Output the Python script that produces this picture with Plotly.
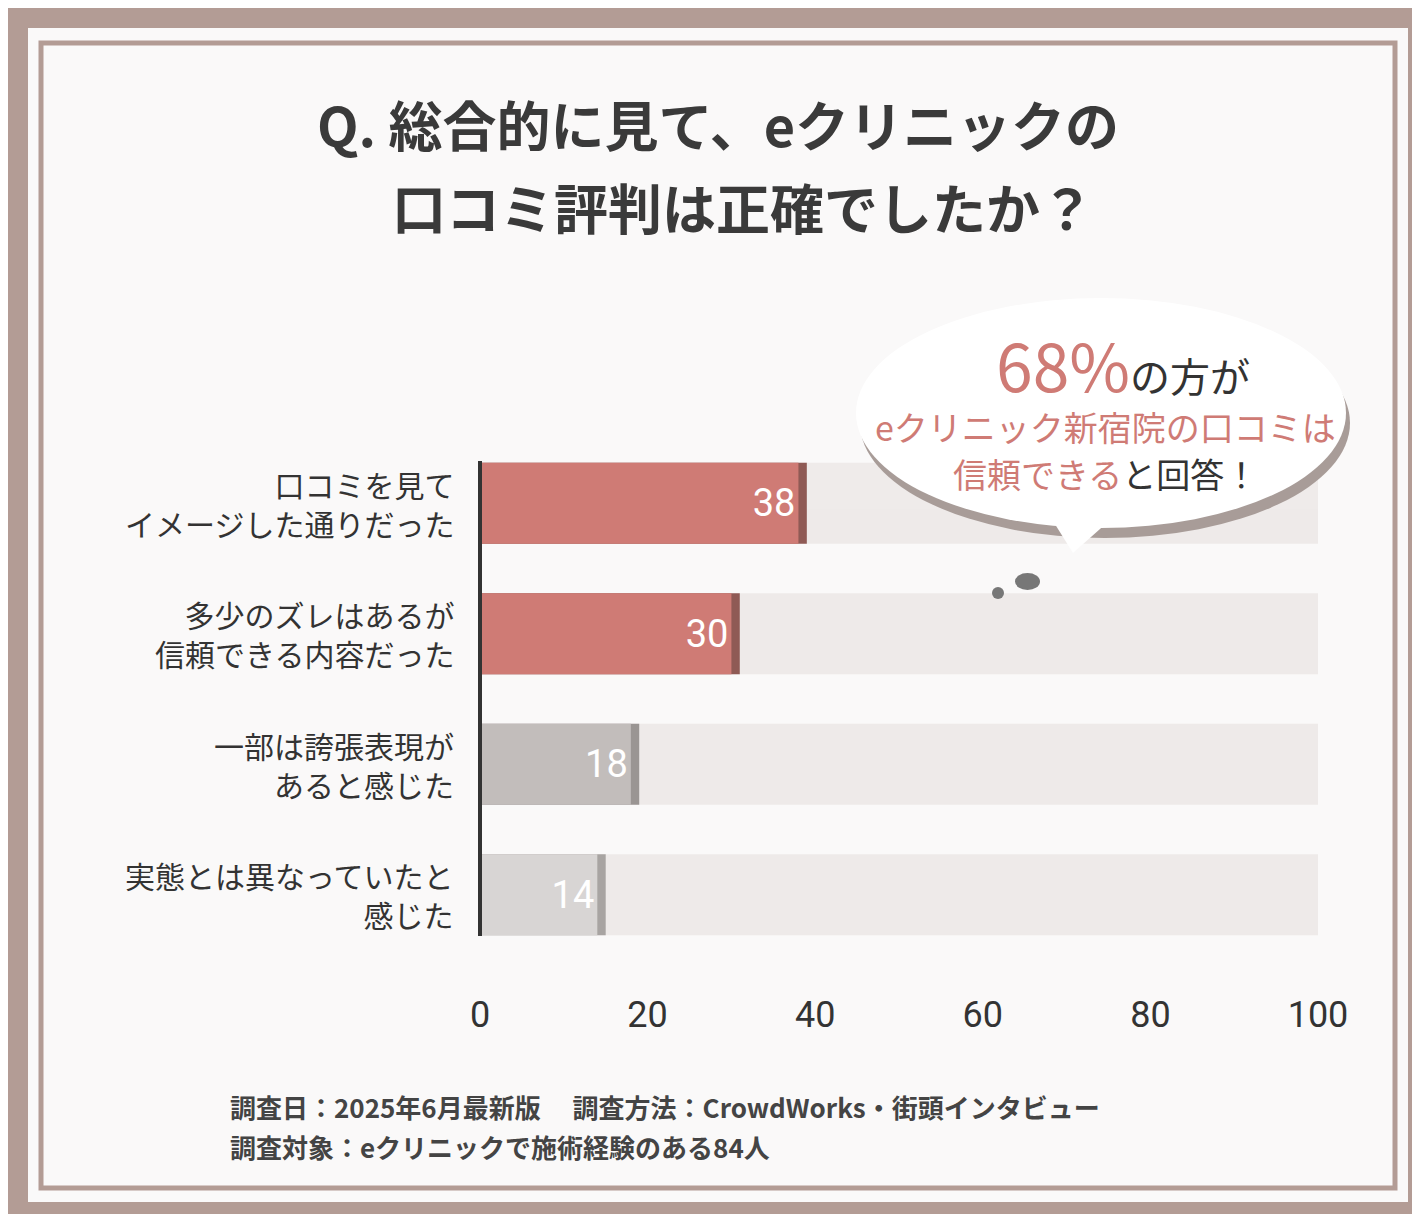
import plotly.graph_objects as go

categories = ["口コミを見て<br>イメージした通りだった", "多少のズレはあるが<br>信頼できる内容だった",
              "一部は誇張表現が<br>あると感じた", "実態とは異なっていたと<br>感じた"]
values = [38, 30, 18, 14]
colors = ["#cf7b75", "#cf7b75", "#c2bdbb", "#d8d5d4"]
shadow = ["#8f5a55", "#8f5a55", "#9a9593", "#a8a4a2"]
xticks = [0, 20, 40, 60, 80, 100]

L, R, T, B = 472, 1310, 430, 952
def px(x): return (x - L) / (R - L)
def py(y): return (B - y) / (B - T)

FONT = "Noto Sans CJK JP"
fig = go.Figure()
yy = list(range(len(categories)))
fig.add_bar(x=[100.8]*4, y=yy, orientation="h", marker=dict(color="#ebe6e4", line_width=0), width=0.62, opacity=0.75, hoverinfo="skip")
fig.add_bar(x=[v + 1.0 for v in values], y=yy, orientation="h", marker=dict(color=shadow, line_width=0), width=0.62, hoverinfo="skip")
fig.add_bar(x=values, y=yy, orientation="h", marker=dict(color=colors, line_width=0), width=0.62,
            text=[str(v) for v in values], textposition="inside", insidetextanchor="end",
            textfont=dict(color="white", size=38, family="Roboto"))

fig.update_layout(barmode="overlay", width=1420, height=1214, showlegend=False,
                  margin=dict(l=L, r=1420 - R, t=T, b=1214 - B),
                  paper_bgcolor="#faf9f9", plot_bgcolor="rgba(0,0,0,0)",
                  xaxis=dict(range=[0, 100], tickvals=xticks, showgrid=False, zeroline=False,
                             tickfont=dict(size=36, family="Roboto", color="#333"), ticklen=0,
                             ticklabelstandoff=30, fixedrange=True),
                  yaxis=dict(range=[3.5, -0.5], showticklabels=False, showgrid=False, zeroline=False))

shapes = [
    dict(type="rect", xref="paper", yref="paper", x0=px(0), x1=px(1420), y0=py(1214), y1=py(0),
         line=dict(color="#b39c95", width=40), fillcolor="rgba(0,0,0,0)", layer="below"),
    dict(type="rect", xref="paper", yref="paper", x0=px(33), x1=px(1387), y0=py(1180), y1=py(35),
         line=dict(color="#b39c95", width=5), fillcolor="rgba(0,0,0,0)", layer="below"),
    dict(type="line", xref="paper", yref="paper", x0=px(472), x1=px(472), y0=py(453), y1=py(928),
         line=dict(color="#333", width=4)),
    dict(type="circle", xref="paper", yref="paper", x0=px(852), x1=px(1342), y0=py(530), y1=py(300),
         fillcolor="#a89c98", line_width=0),
    dict(type="circle", xref="paper", yref="paper", x0=px(848), x1=px(1338), y0=py(520), y1=py(290),
         fillcolor="white", line_width=0),
    dict(type="path", xref="paper", yref="paper",
         path=f"M {px(1040)},{py(505)} L {px(1065)},{py(545)} L {px(1110)},{py(505)} Z",
         fillcolor="white", line_width=0),
    dict(type="circle", xref="paper", yref="paper", x0=px(984), x1=px(996), y0=py(591), y1=py(579),
         fillcolor="#777", line_width=0),
    dict(type="circle", xref="paper", yref="paper", x0=px(1007), x1=px(1032), y0=py(582), y1=py(565),
         fillcolor="#777", line_width=0),
]
fig.update_layout(shapes=shapes)

ann = [
    dict(x=px(710), y=py(115), text="<b>Q. 総合的に見て、eクリニックの</b>", font=dict(size=54, color="#3a3a3a")),
    dict(x=px(735), y=py(198), text="<b>口コミ評判は正確でしたか？</b>", font=dict(size=54, color="#3a3a3a")),
    dict(x=px(1115), y=py(355), text="<span style='font-size:66px;color:#cf7b75'>68%</span><span style='font-size:40px;color:#333'>の方が</span>", font=dict(size=40)),
    dict(x=px(1097), y=py(418), text="eクリニック新宿院の口コミは", font=dict(size=34, color="#cf7b75")),
    dict(x=px(1097), y=py(465), text="信頼できる<span style='color:#333'>と回答！</span>", font=dict(size=34, color="#cf7b75")),
    dict(x=px(220), y=py(1098), text="<b>調査日：2025年6月最新版　 調査方法：CrowdWorks・街頭インタビュー</b>",
         font=dict(size=26, color="#444"), xanchor="left"),
    dict(x=px(220), y=py(1138), text="<b>調査対象：eクリニックで施術経験のある84人</b>",
         font=dict(size=26, color="#444"), xanchor="left"),
]
for i, c in enumerate(categories):
    ann.append(dict(x=px(448), y=i, yref="y", text=c, xanchor="right", align="right",
                    font=dict(size=30, color="#333")))
for a in ann:
    a.setdefault("xref", "paper"); a.setdefault("yref", "paper"); a.setdefault("showarrow", False)
    a.setdefault("xanchor", "center"); a.setdefault("yanchor", "middle")
    a["font"].setdefault("family", FONT)
fig.update_layout(annotations=ann)
fig.write_html("out.html")
